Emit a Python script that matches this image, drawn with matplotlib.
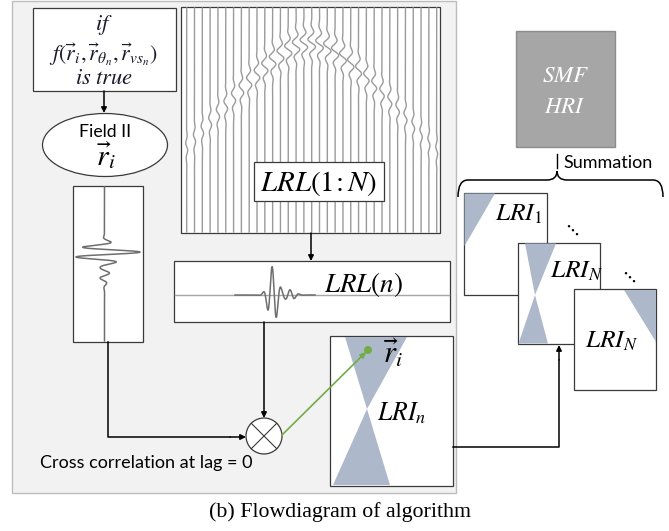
import numpy as np
import matplotlib
matplotlib.use('Agg')
import matplotlib.pyplot as plt
from matplotlib.patches import Rectangle, Ellipse, Polygon, Circle, PathPatch
from matplotlib.path import Path

plt.rcParams['mathtext.fontset'] = 'stix'

# ---------------- text content ----------------
cond_lines = [r'$if$', r'$f(\vec{r}_i,\vec{r}_{\theta_n},\vec{r}_{vs_n})$', r'$is\ true$']
field_label = 'Field II'
ri_label = r'$\vec{r}_i$'
xcorr_label = 'Cross correlation at lag = 0'
lrl_all_label = r'$LRL(1\!:N)$'
lrl_n_label = r'$LRL(n)$'
lri_n_label = r'$LRI_n$'
smf_lines = [r'$SMF$', r'$HRI$']
sum_label = 'Summation'
lri_stack_labels = [r'$LRI_1$', r'$LRI_N$', r'$LRI_N$']
caption = '(b) Flowdiagram of algorithm'

# illustrative waveform parameters
n_traces = 33
pulse_period = 16.0
apex_time = 43.0
apex_velocity = 0.88

W, H = 669, 531
fig = plt.figure(figsize=(W / 100, H / 100), dpi=100)
ax = fig.add_axes([0, 0, 1, 1])
ax.set_xlim(0, W)
ax.set_ylim(H, 0)
ax.axis('off')
renderer = fig.canvas.get_renderer()

EC = '#3a3a3a'
TRI = '#adb9ca'
GREEN = '#70ad47'
TXT = '#1a1a2a'


def fit_text(x, y, s, width, size=14, **kw):
    t = ax.text(x, y, s, fontsize=size, **kw)
    bb = t.get_window_extent(renderer)
    t.set_fontsize(size * width / bb.width)
    return t


def box(x0, y0, x1, y1, fc='white', ec=EC, lw=0.9, z=2):
    ax.add_patch(Rectangle((x0, y0), x1 - x0, y1 - y0, fc=fc, ec=ec, lw=lw, zorder=z))


def arrow(p0, p1, color='black', lw=1.1, z=5):
    ax.annotate('', xy=p1, xytext=p0,
                arrowprops=dict(arrowstyle='-|>', color=color, lw=lw,
                                mutation_scale=8, shrinkA=0, shrinkB=0),
                zorder=z)


# ---------------- gray panel ----------------
box(12, 0.5, 456, 492.5, fc='#f2f2f2', ec='#bdbdbd', lw=1.0, z=0)

# ---------------- condition box ----------------
box(33, 8, 176, 91)
t = fit_text(104, 61, cond_lines[1], 110, ha='center', va='baseline', color=TXT, zorder=6)
fs = t.get_fontsize()
ax.text(104, 30, cond_lines[0], fontsize=fs * 1.02, ha='center', va='baseline', color=TXT, zorder=6)
ax.text(104, 84, cond_lines[2], fontsize=fs * 1.02, ha='center', va='baseline', color=TXT, zorder=6)
arrow((104, 91), (104, 113))

# ---------------- Field II ellipse ----------------
ax.add_patch(Ellipse((105, 145), 125, 63, fc='white', ec=EC, lw=0.9, zorder=2))
fit_text(105, 137, field_label, 52, family='Lato', ha='center', va='baseline', zorder=6)
ax.text(106, 165, ri_label, fontsize=fs * 1.35, ha='center', va='baseline', zorder=6)

# ---------------- single trace box ----------------
box(73, 186, 143, 342)
yy = np.linspace(187, 341, 1500)
env = np.exp(-((yy - 253) / 8.5) ** 2) + 0.14 * np.exp(-((yy - 275) / 9) ** 2)
xx = 104.5 + 36 * env * np.sin(2 * np.pi * (yy - 249.4) / 10.5)
ax.plot(xx, yy, color='#6e6e6e', lw=1.1, zorder=3)

# connector trace box -> correlator
ax.plot([108, 108, 230], [342, 437, 437], color='black', lw=1.1, zorder=4)
arrow((230, 437), (246, 437))

# ---------------- LRL(1:N) box ----------------
box(181, 7, 440, 233)
xs = np.linspace(186.7, 436.7, n_traces)
xc = 310
yl = np.linspace(8, 232, 800)
for x0 in xs:
    dx = x0 - xc
    tt = np.sqrt(apex_time ** 2 + (dx / apex_velocity) ** 2)
    amp = 3.6 * np.exp(-(dx / 90) ** 2) + 0.5
    e = np.exp(-((yl - tt) / 14) ** 2)
    ax.plot(x0 + amp * e * np.sin(2 * np.pi * (yl - tt) / pulse_period), yl,
            color='#9a9a9a', lw=1.0, zorder=3)
box(254, 162, 384, 201, lw=0.9, z=4)
fit_text(318.5, 191, lrl_all_label, 118, ha='center', va='baseline', zorder=6)
arrow((311, 233), (311, 261))

# ---------------- LRL(n) box ----------------
box(174, 261, 450, 322)
ax.plot([175, 449], [295, 295], color='#a6a6a6', lw=1.0, zorder=3)
xw = np.linspace(235, 315, 1500)
envn = np.exp(-((xw - 273) / 6.5) ** 2) + 0.18 * np.exp(-((xw - 290) / 7) ** 2)
ax.plot(xw, 295 - 29 * envn * np.sin(2 * np.pi * (xw - 269.75) / 9.0), color='#6e6e6e', lw=1.1, zorder=3)
fit_text(363, 292, lrl_n_label, 80, ha='center', va='baseline', zorder=6)

# connector LRL(n) -> correlator
arrow((264, 322), (264, 418))

# ---------------- correlator ----------------
ax.add_patch(Circle((264, 436), 18, fc='white', ec=EC, lw=0.9, zorder=4))
r = 18 * np.cos(np.pi / 4)
ax.plot([264 - r, 264 + r], [436 - r, 436 + r], color=EC, lw=0.8, zorder=5)
ax.plot([264 - r, 264 + r], [436 + r, 436 - r], color=EC, lw=0.8, zorder=5)
fit_text(146.5, 468, xcorr_label, 213, family='Lato', ha='center', va='baseline', zorder=6)

# ---------------- LRI_n box ----------------
box(330, 336, 453, 486)
ax.add_patch(Polygon([(345, 337), (407, 337), (367, 409)], closed=True, fc=TRI, ec='none', zorder=3))
ax.add_patch(Polygon([(333, 485), (390, 485), (367, 409)], closed=True, fc=TRI, ec='none', zorder=3))
fit_text(377, 420, lri_n_label, 50, ha='left', va='baseline', zorder=6)
ax.text(383, 363, ri_label, fontsize=22, ha='left', va='baseline', zorder=6)

# green link
arrow((282, 435), (366, 352), color=GREEN, lw=1.2, z=6)
ax.add_patch(Circle((368, 350), 4, fc=GREEN, ec='none', zorder=7))

# connector LRI_n -> stack
ax.plot([453, 559, 559], [447, 447, 360], color='black', lw=1.1, zorder=4)
arrow((559, 360), (559, 345))

# ---------------- SMF HRI ----------------
box(516, 31, 615, 147, fc='#a6a6a6', ec='#8c8c8c', lw=1.0)
t2 = fit_text(566, 82, smf_lines[0], 48, ha='center', va='baseline', color='white', zorder=6)
ax.text(565, 113, smf_lines[1], fontsize=t2.get_fontsize(), ha='center', va='baseline', color='white', zorder=6)

# ---------------- summation brace ----------------
ax.plot([557, 557], [154, 168], color='black', lw=1.0, zorder=4)
verts = [(458, 197), (458, 180), (468, 180), (547, 180), (557, 180), (557, 171),
         (557, 180), (567, 180), (653, 180), (663, 180), (663, 197)]
codes = [Path.MOVETO, Path.CURVE3, Path.CURVE3, Path.LINETO, Path.CURVE3, Path.CURVE3,
         Path.CURVE3, Path.CURVE3, Path.LINETO, Path.CURVE3, Path.CURVE3]
ax.add_patch(PathPatch(Path(verts, codes), fc='none', ec='black', lw=1.1, zorder=4))
fit_text(563, 168, sum_label, 90, family='Lato', ha='left', va='baseline', zorder=6)

# ---------------- LRI stack ----------------
box(464, 193, 547, 295)
ax.add_patch(Polygon([(464.5, 193.5), (495, 193.5), (464.5, 246)], closed=True, fc=TRI, ec='none', zorder=3))
t3 = fit_text(495, 221, lri_stack_labels[0], 48, ha='left', va='baseline', zorder=6)

box(518, 243, 600, 344, z=4)
ax.add_patch(Polygon([(525, 243.5), (556, 243.5), (535, 295)], closed=True, fc=TRI, ec='none', zorder=4))
ax.add_patch(Polygon([(518.5, 343.5), (548, 343.5), (535, 295)], closed=True, fc=TRI, ec='none', zorder=4))
ax.text(550, 278, lri_stack_labels[1], fontsize=t3.get_fontsize(), ha='left', va='baseline', zorder=6)

box(574, 289, 656, 390, z=5)
ax.add_patch(Polygon([(624, 289.5), (655.5, 289.5), (655.5, 342)], closed=True, fc=TRI, ec='none', zorder=5))
ax.text(585, 348, lri_stack_labels[2], fontsize=t3.get_fontsize(), ha='left', va='baseline', zorder=6)

ax.text(571, 229, r'$\ddots$', fontsize=14, ha='center', va='center', zorder=6)
ax.text(628, 276, r'$\ddots$', fontsize=14, ha='center', va='center', zorder=6)

# ---------------- caption ----------------
fit_text(340, 517, caption, 263, family='Liberation Serif', ha='center', va='baseline', zorder=6)

fig.savefig('out.png', dpi=100)
